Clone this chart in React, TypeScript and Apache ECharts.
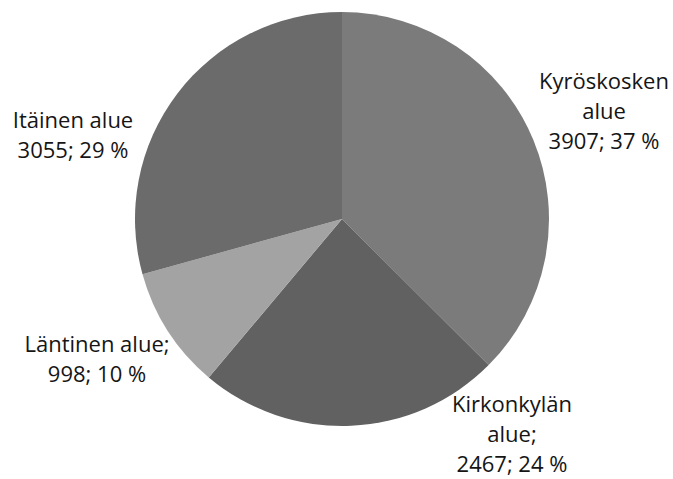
import React, { useEffect, useRef } from "react";
import * as echarts from "echarts";

const categories = ["Kyröskosken\nalue", "Kirkonkylän\nalue;", "Läntinen alue;", "Itäinen alue"];
const values = [3907, 2467, 998, 3055];
const colors = ["#7b7b7b", "#616161", "#a3a3a3", "#6b6b6b"];
const labelPos: [number, number][] = [
  [604, 110],
  [512, 433],
  [97, 358],
  [73, 134],
];

export default function App() {
  const ref = useRef<HTMLDivElement>(null);
  useEffect(() => {
    if (!ref.current) return;
    const chart = echarts.init(ref.current, null, { renderer: "svg" });
    chart.setOption({
      animation: false,
      backgroundColor: "#ffffff",
      series: [
        {
          type: "pie",
          center: [342, 219],
          radius: 207,
          startAngle: 90,
          clockwise: true,
          percentPrecision: 0,
          silent: true,
          data: categories.map((name, i) => ({
            name,
            value: values[i],
            itemStyle: { color: colors[i] },
          })),
          itemStyle: { borderWidth: 0 },
          label: {
            show: true,
            position: "outside",
            formatter: (p: any) => `${p.name}\n${p.value}; ${Math.round(p.percent)} %`,
            fontFamily: "Open Sans",
            fontSize: 22,
            lineHeight: 30,
            color: "#151515",
            align: "center",
            overflow: "none",
          },
          labelLine: { show: false },
          labelLayout: (params: any) => ({
            x: labelPos[params.dataIndex][0],
            y: labelPos[params.dataIndex][1],
            align: "center",
            verticalAlign: "middle",
          }),
        },
      ],
    });
    return () => chart.dispose();
  }, []);
  return (
    <div
      ref={ref}
      style={{ position: "fixed", left: 0, top: 0, width: 673, height: 479 }}
    />
  );
}
